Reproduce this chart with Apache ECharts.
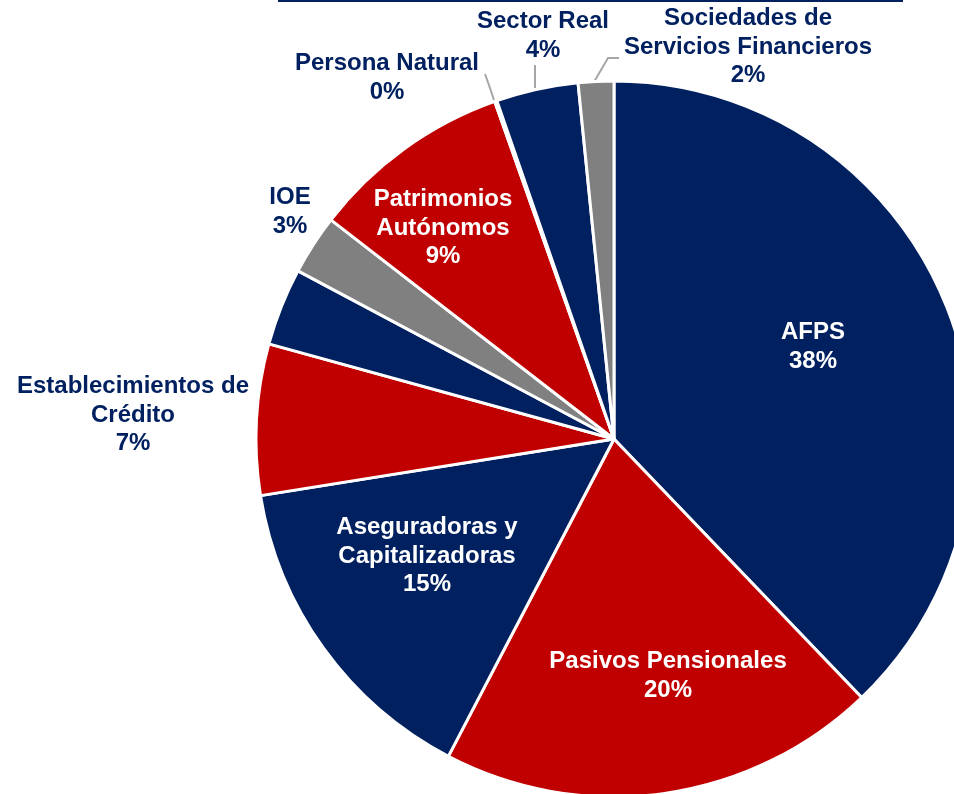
<!DOCTYPE html>
<html>
<head>
<meta charset="utf-8">
<script src="https://cdn.jsdelivr.net/npm/echarts@6/dist/echarts.min.js"></script>
<style>
    html, body { margin: 0; padding: 0; background: #fff; }
    #chart { width: 954px; height: 794px; }
</style>
</head>
<body>
<div id="chart"></div>
<script>
// participaciones por tipo de tenedor (en %)
var sectores = [
    'AFPS',
    'Pasivos Pensionales',
    'Aseguradoras y\nCapitalizadoras',
    'Establecimientos de\nCrédito',
    'Otros',
    'IOE',
    'Patrimonios\nAutónomos',
    'Persona Natural',
    'Sector Real',
    'Sociedades de\nServicios Financieros'
];
var participacion = [37.8, 19.8, 14.8, 6.8, 3.5, 2.7, 9.1, 0.1, 3.7, 1.6];

var NAVY = '#002060', RED = '#C00000', GREY = '#808080';
var colores = [NAVY, RED, NAVY, RED, NAVY, GREY, RED, NAVY, NAVY, GREY];
var etiquetaBlanca = [true, true, true, false, false, false, true, false, false, false];

// donde va cada etiqueta (centro del bloque de texto)
var posEtiquetas = {
    0: [813, 347],
    1: [668, 676],
    2: [427, 556],
    3: [133, 415],
    5: [290, 212],
    6: [443, 228],
    7: [387, 78],
    8: [543, 36],
    9: [748, 47]
};
var lineasGuia = {
    7: [[495, 103], [490, 88], [485, 74]],
    8: [[535, 88], [535, 77], [535, 65]],
    9: [[594, 82], [608, 58], [619, 58]]
};

var datos = [];
for (var i = 0; i < sectores.length; i++) {
    datos.push({
        name: sectores[i],
        value: participacion[i],
        itemStyle: { color: colores[i] },
        label: {
            show: i !== 4,
            color: etiquetaBlanca[i] ? '#fff' : NAVY
        },
        labelLine: { show: !!lineasGuia[i] }
    });
}

var option = {
    animation: false,
    backgroundColor: '#fff',
    graphic: [{
        type: 'line',
        shape: { x1: 278, y1: 1, x2: 903, y2: 1 },
        style: { stroke: NAVY, lineWidth: 2 }
    }],
    series: [{
        type: 'pie',
        center: [614, 439],
        radius: 358,
        startAngle: 90,
        clockwise: true,
        avoidLabelOverlap: false,
        itemStyle: { borderColor: '#fff', borderWidth: 3 },
        label: {
            position: 'outside',
            fontFamily: 'Liberation Sans, Arial, sans-serif',
            fontWeight: 'bold',
            fontSize: 24,
            lineHeight: 28.5,
            align: 'center',
            formatter: function (p) {
                return p.name + '\n' + Math.round(p.percent) + '%';
            }
        },
        labelLine: {
            lineStyle: { color: '#A6A6A6', width: 2 }
        },
        labelLayout: function (p) {
            var pos = posEtiquetas[p.dataIndex];
            if (!pos) return {};
            var res = { x: pos[0], y: pos[1], align: 'center', verticalAlign: 'middle' };
            if (lineasGuia[p.dataIndex]) res.labelLinePoints = lineasGuia[p.dataIndex];
            return res;
        },
        data: datos
    }]
};

var myChart = echarts.init(document.getElementById('chart'));
myChart.setOption(option);
</script>
</body>
</html>
